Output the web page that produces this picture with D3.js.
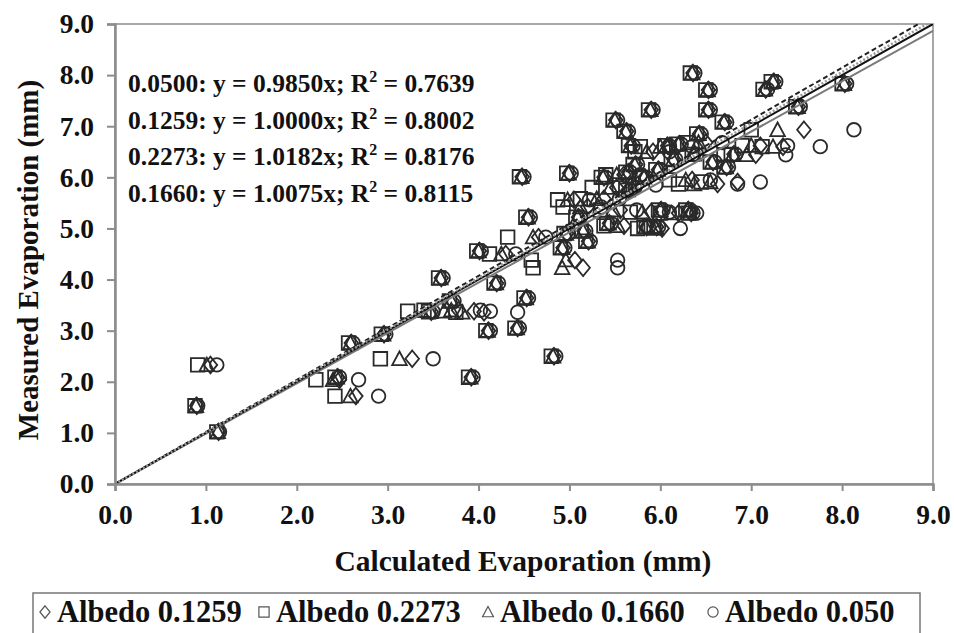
<!DOCTYPE html>
<html>
<head>
<meta charset="utf-8">
<script src="https://cdn.jsdelivr.net/npm/d3@7"></script>
<style>
  html, body { margin: 0; padding: 0; background: #fff; }
  svg { display: block; }
  text { font-family: "Liberation Serif", "Times New Roman", serif; font-weight: bold; fill: #111; }
</style>
</head>
<body>
<svg id="chart" width="954" height="633"></svg>
<script>
// Measured pan evaporation (mm) for each day
const measured = [
  1.53, 1.02, 2.33, 2.04, 2.09, 1.72, 2.76, 2.93, 2.45, 2.09,
  2.50, 4.03, 3.40, 3.38, 3.37, 3.58, 3.36, 3.00, 3.93, 3.64,
  3.05, 6.01, 5.22, 4.83, 4.56, 4.50, 4.23, 4.38, 4.62, 4.90,
  5.22, 4.95, 4.75, 5.56, 5.42, 5.58, 6.08, 6.00, 5.36, 5.32,
  5.30, 5.30, 5.10, 5.03, 5.03, 5.05, 5.00, 5.36, 5.36, 8.04,
  7.71, 7.32, 7.08, 7.32, 7.12, 7.72, 7.87, 7.83, 7.38, 6.90,
  6.62, 6.60, 6.62, 6.65, 6.62, 6.60, 6.93, 6.44, 5.91, 5.87,
  6.30, 6.20, 6.45, 6.10, 6.25, 6.00, 6.15, 5.85, 6.35, 5.95,
  6.50, 6.05, 5.75, 6.68, 5.80, 6.45, 6.85
];

// Calculated evaporation (mm) for each surface albedo
const calcAlbedo2273 = [
  0.88, 1.12, 0.91, 2.21, 2.42, 2.42, 2.57, 2.93, 2.92, 3.89,
  4.80, 3.56, 3.40, 3.22, 3.45, 3.68, 3.75, 4.08, 4.17, 4.50,
  4.40, 4.45, 4.52, 4.32, 3.98, 4.12, 4.60, 4.58, 4.90, 4.94,
  5.07, 5.13, 5.18, 4.87, 4.93, 5.12, 4.97, 5.35, 5.34, 5.67,
  6.00, 6.31, 5.41, 5.82, 5.93, 5.38, 5.75, 5.98, 6.28, 6.33,
  6.50, 6.50, 6.68, 5.87, 5.48, 7.13, 7.22, 8.00, 7.49, 5.60,
  5.65, 5.78, 6.05, 6.18, 6.90, 7.12, 7.00, 6.70, 6.45, 6.20,
  6.55, 6.70, 6.35, 5.62, 5.70, 5.80, 5.95, 5.55, 6.12, 6.10,
  5.72, 5.40, 5.62, 6.30, 5.25, 6.78, 6.40
];
const calcAlbedo1660 = [
  0.89, 1.13, 1.01, 2.40, 2.44, 2.59, 2.59, 2.95, 3.13, 3.91,
  4.82, 3.58, 3.70, 3.62, 3.47, 3.70, 3.82, 4.10, 4.19, 4.52,
  4.42, 4.47, 4.54, 4.60, 4.00, 4.25, 4.92, 4.96, 4.92, 4.96,
  5.09, 5.15, 5.20, 4.98, 5.12, 5.30, 4.99, 5.37, 5.48, 5.80,
  6.12, 6.33, 5.43, 5.84, 5.95, 5.53, 5.95, 6.00, 6.30, 6.35,
  6.52, 6.52, 6.70, 5.89, 5.50, 7.15, 7.24, 8.02, 7.51, 5.62,
  5.67, 6.00, 6.07, 6.20, 7.00, 7.24, 7.29, 6.95, 6.55, 6.37,
  6.57, 6.72, 6.37, 5.64, 5.72, 5.82, 5.97, 5.67, 6.14, 6.28,
  5.85, 5.52, 5.64, 6.42, 5.45, 6.80, 6.42
];
const calcAlbedo1259 = [
  0.90, 1.14, 1.05, 2.47, 2.45, 2.65, 2.60, 2.96, 3.27, 3.92,
  4.83, 3.59, 3.78, 3.95, 3.48, 3.71, 4.06, 4.11, 4.20, 4.53,
  4.43, 4.48, 4.55, 4.66, 4.01, 4.30, 5.15, 5.06, 4.93, 4.97,
  5.10, 5.16, 5.21, 5.05, 5.20, 5.38, 5.00, 5.38, 5.56, 5.90,
  6.20, 6.34, 5.44, 5.85, 5.96, 5.60, 6.02, 6.01, 6.31, 6.36,
  6.53, 6.53, 6.71, 5.90, 5.51, 7.16, 7.25, 8.03, 7.52, 5.63,
  5.68, 6.10, 6.08, 6.21, 7.10, 7.35, 7.58, 7.05, 6.85, 6.63,
  6.58, 6.73, 6.38, 5.65, 5.73, 5.83, 5.98, 5.75, 6.15, 6.35,
  5.92, 5.60, 5.65, 6.50, 5.52, 6.81, 6.43
];
const calcAlbedo0500 = [
  0.91, 1.15, 1.12, 2.68, 2.47, 2.90, 2.62, 2.98, 3.50, 3.94,
  4.85, 3.61, 4.02, 4.13, 3.50, 3.73, 4.43, 4.13, 4.22, 4.55,
  4.45, 4.50, 4.57, 4.74, 4.03, 4.41, 5.53, 5.53, 4.95, 4.99,
  5.12, 5.18, 5.23, 5.22, 5.35, 5.55, 5.02, 5.40, 5.74, 6.10,
  6.40, 6.36, 5.46, 5.87, 5.98, 5.84, 6.22, 6.03, 6.33, 6.38,
  6.55, 6.55, 6.73, 5.92, 5.53, 7.18, 7.27, 8.05, 7.54, 5.65,
  5.70, 6.35, 6.10, 6.23, 7.40, 7.76, 8.13, 7.38, 7.10, 6.85,
  6.60, 6.75, 6.40, 5.67, 5.75, 5.85, 6.00, 5.95, 6.17, 6.55,
  6.10, 5.78, 5.67, 6.68, 5.72, 6.83, 6.45
];

// Regression lines through the origin (slope of measured on calculated)
const fitLabels = ["0.0500", "0.1259", "0.2273", "0.1660"];
const fitSlopes = [0.9850, 1.0000, 1.0182, 1.0075];
const fitR2 = [0.7639, 0.8002, 0.8176, 0.8115];

const axisTicks = [0, 1, 2, 3, 4, 5, 6, 7, 8, 9];
const legendLabels = ["Albedo 0.1259", "Albedo 0.2273", "Albedo 0.1660", "Albedo 0.050"];

const svg = d3.select("#chart");
const L = 115, R = 933, T = 24, B = 484;
const x = d3.scaleLinear().domain([0, 9]).range([L, R]);
const y = d3.scaleLinear().domain([0, 9]).range([B, T]);
const fmt = d3.format(".1f");
const axisGrey = "#8c8c8c";

svg.append("defs").append("clipPath").attr("id", "plotClip")
  .append("rect").attr("x", L).attr("y", T).attr("width", R - L).attr("height", B - T);

// plot frame
svg.append("rect").attr("x", L).attr("y", T).attr("width", R - L).attr("height", B - T)
  .attr("fill", "none").attr("stroke", "#a8a8a8").attr("stroke-width", 2);

// marker shapes
const sz = 6.8;
const shapes = {
  diamond: `M0,${-sz - 1.5}L${sz},0L0,${sz + 1.5}L${-sz},0Z`,
  square: `M${-sz},${-sz}H${sz}V${sz}H${-sz}Z`,
  triangle: `M0,${-sz - 0.5}L${sz + 0.5},${sz - 0.5}L${-sz - 0.5},${sz - 0.5}Z`,
  circle: d3.symbol().type(d3.symbolCircle).size(Math.PI * sz * sz)()
};

const series = [
  { shape: "square", xs: calcAlbedo2273 },
  { shape: "triangle", xs: calcAlbedo1660 },
  { shape: "diamond", xs: calcAlbedo1259 },
  { shape: "circle", xs: calcAlbedo0500 }
];

const pts = svg.append("g").attr("clip-path", "url(#plotClip)");
series.forEach(s => {
  pts.selectAll(null).data(s.xs.map((v, i) => [v, measured[i]])).join("path")
    .attr("d", shapes[s.shape])
    .attr("transform", d => `translate(${x(d[0])},${y(d[1])})`)
    .attr("fill", "none")
    .attr("stroke", "#2a2a2a")
    .attr("stroke-width", 1.8);
});

// trend lines
const lineStyles = [
  { stroke: "#7a7a7a", width: 2, dash: null },
  { stroke: "#111", width: 2, dash: null },
  { stroke: "#222", width: 2, dash: "5,3" },
  { stroke: "#9a9a9a", width: 2.5, dash: "2,2" }
];
const lines = svg.append("g").attr("clip-path", "url(#plotClip)");
fitSlopes.forEach((m, i) => {
  const st = lineStyles[i];
  lines.append("line")
    .attr("x1", x(0)).attr("y1", y(0))
    .attr("x2", x(9)).attr("y2", y(9 * m))
    .attr("stroke", st.stroke).attr("stroke-width", st.width)
    .attr("stroke-dasharray", st.dash);
});

// axes
const yAxis = svg.append("g").attr("transform", `translate(${L},0)`)
  .call(d3.axisLeft(y).tickValues(axisTicks).tickFormat(fmt).tickSize(8).tickPadding(13));
const xAxis = svg.append("g").attr("transform", `translate(0,${B})`)
  .call(d3.axisBottom(x).tickValues(axisTicks).tickFormat(fmt).tickSize(7).tickPadding(13));
[yAxis, xAxis].forEach(a => {
  a.select(".domain").attr("stroke", axisGrey).attr("stroke-width", 2.5);
  a.selectAll(".tick line").attr("stroke", axisGrey).attr("stroke-width", 2);
  a.selectAll(".tick text").style("font-size", "27.5px").attr("fill", "#111");
});

// axis titles
svg.append("text").attr("x", 523).attr("y", 571).attr("text-anchor", "middle")
  .style("font-size", "29.5px").text("Calculated Evaporation (mm)");
svg.append("text").attr("transform", "translate(38,260) rotate(-90)").attr("text-anchor", "middle")
  .style("font-size", "29px").text("Measured Evaporation (mm)");

// regression equations
const eq = svg.append("g");
fitLabels.forEach((lab, i) => {
  const t = eq.append("text").attr("x", 128).attr("y", 92 + i * 36.5).style("font-size", "25.5px");
  t.append("tspan").text(`${lab}: y = ${fitSlopes[i].toFixed(4)}x; R`);
  t.append("tspan").attr("dy", -10).style("font-size", "16px").text("2");
  t.append("tspan").attr("dy", 10).text(` = ${fitR2[i].toFixed(4)}`);
});

// legend
svg.append("rect").attr("x", 33).attr("y", 593).attr("width", 887).attr("height", 45)
  .attr("fill", "none").attr("stroke", "#777").attr("stroke-width", 1.5);
const legShapes = ["diamond", "square", "triangle", "circle"];
const legX = [45, 264, 488, 713];
const ls = 0.75;
legendLabels.forEach((lab, i) => {
  const g = svg.append("g").attr("transform", `translate(${legX[i]},612)`);
  g.append("path")
    .attr("d", shapes[legShapes[i]])
    .attr("transform", `scale(${ls})`)
    .attr("fill", "none").attr("stroke", "#555").attr("stroke-width", 1.6);
  g.append("text").attr("x", 12).attr("y", 10).style("font-size", "30.5px").text(lab);
});
</script>
</body>
</html>
